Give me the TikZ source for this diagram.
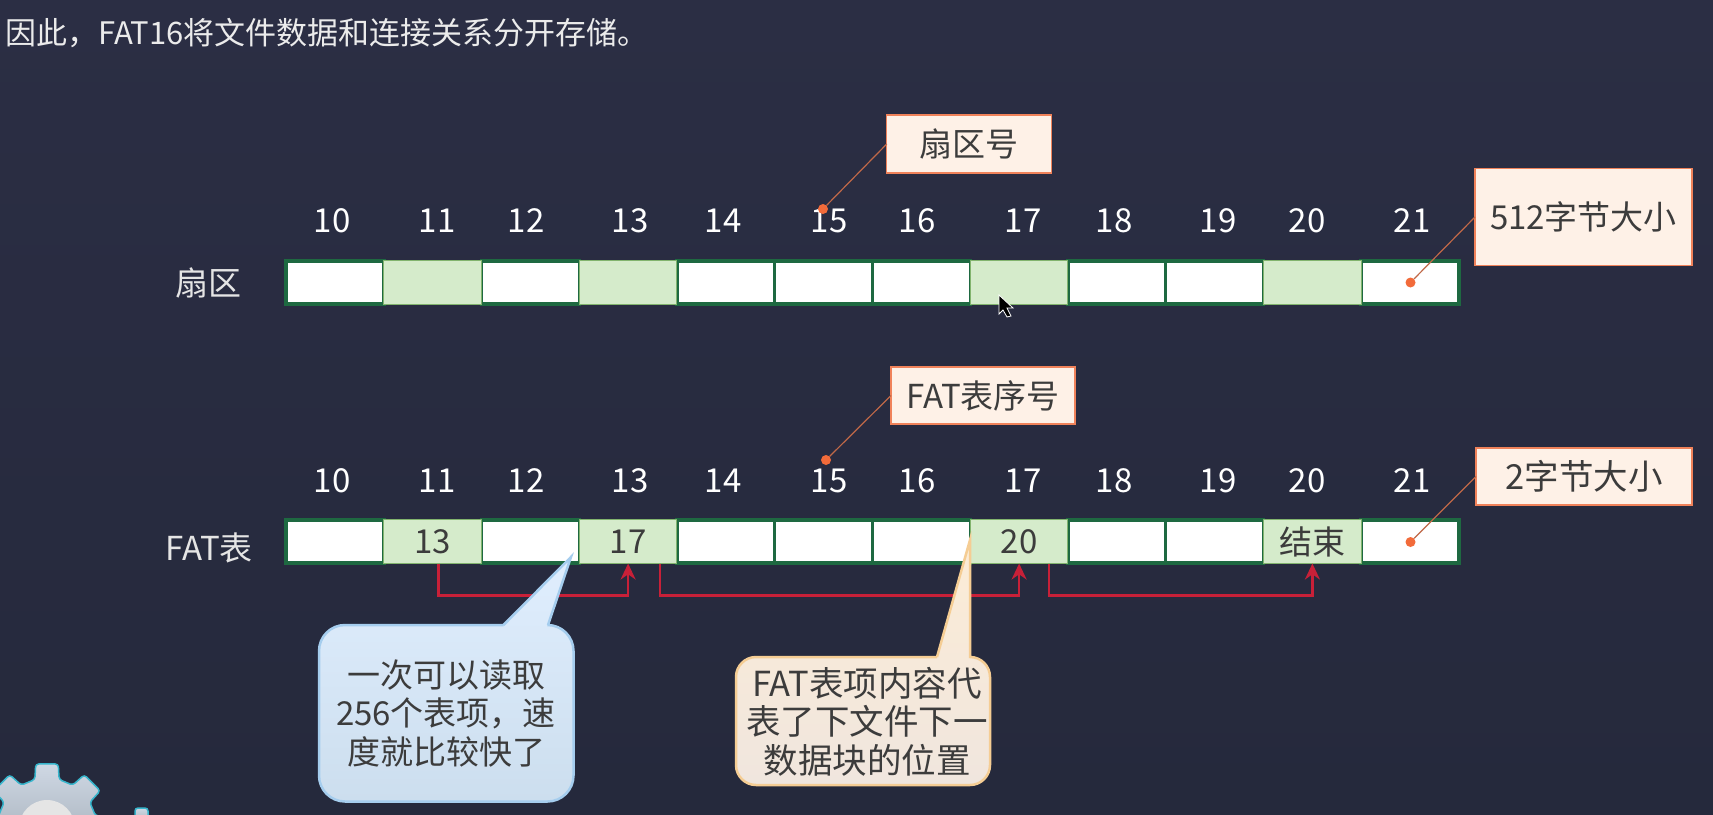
\documentclass[tikz,border=0pt]{standalone}
\usepackage{fontspec}
\setmainfont{Noto Sans CJK SC}
\usepackage{xcolor}
\definecolor{paneltop}{RGB}{43,46,68}
\definecolor{panelbot}{RGB}{37,41,60}
\definecolor{celledge}{RGB}{30,105,65}
\definecolor{usedfill}{RGB}{213,235,203}
\definecolor{usededge}{RGB}{130,180,110}
\definecolor{noteedge}{RGB}{240,130,90}
\definecolor{notefill}{RGB}{254,241,231}
\definecolor{dotorange}{RGB}{242,107,58}
\definecolor{linkred}{RGB}{200,32,56}
\definecolor{inkgrey}{RGB}{60,60,60}
\usetikzlibrary{arrows.meta,shadings}

\begin{document}
\begin{tikzpicture}[
  x=1pt, y=-1pt,
  secnum/.style={font=\fontsize{33}{36}\selectfont, text=white, inner sep=0pt},
  rowname/.style={font=\fontsize{33}{38}\selectfont, text=white!90!black, inner sep=0pt},
  blankcell/.style={rectangle, draw=celledge, line width=3.5pt, fill=white, minimum width=97.75pt, minimum height=43pt, inner sep=0pt, outer sep=0pt},
  usedcell/.style={rectangle, draw=usededge, line width=1pt, fill=usedfill, minimum width=97.75pt, minimum height=44pt, inner sep=0pt, outer sep=0pt, text=inkgrey, font=\fontsize{33}{36}\selectfont},
  notebox/.style={rectangle, draw=noteedge, line width=1.2pt, fill=notefill, inner sep=0pt, outer sep=0pt, text=inkgrey, font=\fontsize{33}{38}\selectfont},
  dotmark/.style={circle, fill=dotorange, minimum size=10pt, inner sep=0pt},
  leader/.style={draw=noteedge!80!black, line width=1.2pt},
  link/.style={-{Stealth[length=16pt, width=15pt]}, line width=2.6pt, linkred},
  bluecall/.style={draw={rgb,255:red,165;green,205;blue,238}, line width=2.5pt, top color={rgb,255:red,224;green,238;blue,254}, bottom color={rgb,255:red,204;green,222;blue,238}},
  sandcall/.style={draw={rgb,255:red,245;green,205;blue,148}, line width=2.5pt, top color={rgb,255:red,252;green,236;blue,214}, bottom color={rgb,255:red,240;green,230;blue,222}},
  calltext/.style={align=center, inner sep=0pt, text=inkgrey, font=\fontsize{33}{38.5}\selectfont},
  gearbody/.style={draw={rgb,255:red,55;green,181;blue,204}, line width=1.5pt, top color={rgb,255:red,207;green,216;blue,228}, bottom color={rgb,255:red,170;green,180;blue,190}, rounded corners=3pt}
]
  % Background
  \fill[top color=paneltop, bottom color=panelbot] (0,0) rectangle (1713,814);
  \useasboundingbox (0,0) rectangle (1713,814);

  % Gear in the corner
  \draw[gearbody, shift={(47,828)}] (166:50) -- (170:65) -- (190:65) -- (194:50)
    -- (211:50) -- (215:65) -- (235:65) -- (239:50)
    -- (256:50) -- (260:65) -- (280:65) -- (284:50)
    -- (301:50) -- (305:65) -- (325:65) -- (329:50)
    -- (346:50) -- (350:65) -- (370:65) -- (374:50) -- cycle;
  \fill[white!80!gray] (47,828) circle (28);
  \draw[gearbody] (135,822) rectangle (148,808);

  % Title
  \node[anchor=west, inner sep=0pt, text=white!92!black, font=\fontsize{31}{34}\selectfont] (title) at (5,33) {因此，FAT16将文件数据和连接关系分开存储。};

  % Row names
  \node[rowname] (secname) at (208,283) {扇区};
  \node[rowname] (fatname) at (209,548) {FAT表};

  % Sector numbers
  \node[secnum] (sn10) at (332,221) {10};
  \node[secnum] (sn11) at (437,221) {11};
  \node[secnum] (sn12) at (526,221) {12};
  \node[secnum] (sn13) at (630,221) {13};
  \node[secnum] (sn14) at (723,221) {14};
  \node[secnum] (sn15) at (829,221) {15};
  \node[secnum] (sn16) at (917,221) {16};
  \node[secnum] (sn17) at (1023,221) {17};
  \node[secnum] (sn18) at (1114,221) {18};
  \node[secnum] (sn19) at (1218,221) {19};
  \node[secnum] (sn20) at (1307,221) {20};
  \node[secnum] (sn21) at (1412,221) {21};

  % Sector row
  \node[blankcell] (s10) at (334.9,282.5) {};
  \node[blankcell] (s12) at (530.4,282.5) {};
  \node[blankcell] (s14) at (725.9,282.5) {};
  \node[blankcell] (s15) at (823.6,282.5) {};
  \node[blankcell] (s16) at (921.4,282.5) {};
  \node[blankcell] (s18) at (1116.9,282.5) {};
  \node[blankcell] (s19) at (1214.6,282.5) {};
  \node[blankcell] (s21) at (1410.1,282.5) {};
  \node[usedcell] (s11) at (432.6,282.5) {};
  \node[usedcell] (s13) at (628.1,282.5) {};
  \node[usedcell] (s17) at (1019.1,282.5) {};
  \node[usedcell] (s20) at (1312.4,282.5) {};

  % FAT numbers
  \node[secnum] (fn10) at (332,481) {10};
  \node[secnum] (fn11) at (437,481) {11};
  \node[secnum] (fn12) at (526,481) {12};
  \node[secnum] (fn13) at (630,481) {13};
  \node[secnum] (fn14) at (723,481) {14};
  \node[secnum] (fn15) at (829,481) {15};
  \node[secnum] (fn16) at (917,481) {16};
  \node[secnum] (fn17) at (1023,481) {17};
  \node[secnum] (fn18) at (1114,481) {18};
  \node[secnum] (fn19) at (1218,481) {19};
  \node[secnum] (fn20) at (1307,481) {20};
  \node[secnum] (fn21) at (1412,481) {21};

  % FAT row
  \node[blankcell] (f10) at (334.9,541.5) {};
  \node[blankcell] (f12) at (530.4,541.5) {};
  \node[blankcell] (f14) at (725.9,541.5) {};
  \node[blankcell] (f15) at (823.6,541.5) {};
  \node[blankcell] (f16) at (921.4,541.5) {};
  \node[blankcell] (f18) at (1116.9,541.5) {};
  \node[blankcell] (f19) at (1214.6,541.5) {};
  \node[blankcell] (f21) at (1410.1,541.5) {};
  \node[usedcell] (f11) at (432.6,541.5) {13};
  \node[usedcell] (f13) at (628.1,541.5) {17};
  \node[usedcell] (f17) at (1019.1,541.5) {20};
  \node[usedcell] (f20) at (1312.4,541.5) {结束};

  % Links between table entries
  \draw[link] ([xshift=6pt]f11.south) -- ++(0,32) -| (f13.south);
  \draw[link] ([xshift=32pt]f13.south) -- ++(0,32) -| (f17.south);
  \draw[link] ([xshift=30pt]f17.south) -- ++(0,32) -| (f20.south);

  % Notes
  \node[notebox, minimum width=164.5pt, minimum height=58pt] (secnote) at (969,144) {扇区号};
  \node[notebox, minimum width=217pt, minimum height=97pt] (sizenote) at (1583.5,217) {512字节大小};
  \node[notebox, minimum width=184pt, minimum height=57pt] (fatnote) at (983,395.5) {FAT表序号};
  \node[notebox, minimum width=216pt, minimum height=57pt, font=\fontsize{34.5}{38}\selectfont] (itemnote) at (1584,476.5) {2字节大小};

  \node[dotmark] (dotsec) at (823,209) {};
  \node[dotmark] (dotsize) at (1410.5,282.5) {};
  \node[dotmark] (dotfat) at (826,460) {};
  \node[dotmark] (dotitem) at (1410.5,542) {};
  \draw[leader] (dotsec) -- (secnote.west);
  \draw[leader] (dotsize) -- (sizenote.west);
  \draw[leader] (dotfat) -- (fatnote.west);
  \draw[leader] (dotitem) -- (itemnote.west);

  % Speech bubbles
  \draw[bluecall] (503.5,625) -- (571,557) -- (548,625) [rounded corners=26pt] -- (573.5,625) -- (573.5,801.5) -- (319,801.5) -- (319,625) -- (503.5,625);
  \node[calltext] (readnote) at (446,713.5) {一次可以读取\\256个表项，速\\度就比较快了};

  \draw[sandcall] (937,657) -- (970,540) -- (970,657) [rounded corners=20pt] -- (990,657) -- (990,785) -- (736,785) -- (736,657) -- (937,657);
  \node[calltext, font=\fontsize{34.5}{38.5}\selectfont] (metanote) at (867,721.5) {FAT表项内容代\\表了下文件下一\\数据块的位置};

  % Mouse pointer
  \draw[fill=black, draw=white, line width=0.8pt] (999,295) -- (999,314) -- (1003,310) -- (1007,317) -- (1011,316) -- (1007,308) -- (1013,308) -- cycle;
\end{tikzpicture}
\end{document}
